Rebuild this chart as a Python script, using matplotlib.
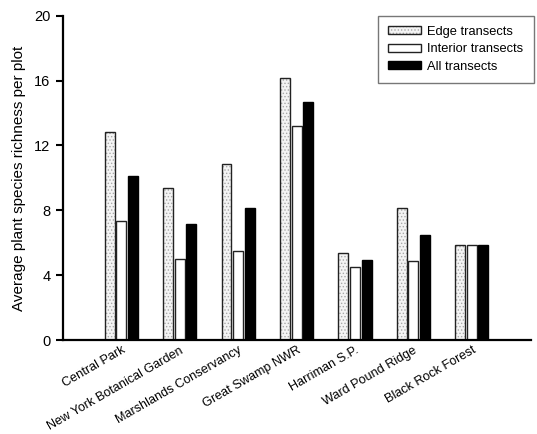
import matplotlib
matplotlib.use("Agg")
import matplotlib.pyplot as plt
import numpy as np
from matplotlib.patches import Patch
from matplotlib.legend_handler import HandlerTuple

plt.rcParams['font.family'] = ['Liberation Sans', 'DejaVu Sans']
plt.rcParams['hatch.linewidth'] = 0.6

sites = ["Central Park", "New York Botanical Garden", "Marshlands Conservancy",
         "Great Swamp NWR", "Harriman S.P.", "Ward Pound Ridge", "Black Rock Forest"]
edge = [12.83, 9.36, 10.87, 16.15, 5.35, 8.17, 5.84]
interior = [7.35, 5.0, 5.51, 13.18, 4.53, 4.86, 5.84]
all_tr = [10.1, 7.19, 8.17, 14.65, 4.94, 6.49, 5.84]
yticks = [0, 4, 8, 12, 16, 20]

fig = plt.figure(figsize=(5.37, 4.34), dpi=100)
ax = fig.add_axes([0.1173, 0.216, 0.872, 0.748])

x = np.arange(len(sites))
w = 0.17
off = 0.2

# edge bars: stippled fill then a dark outline on top
ax.bar(x - off, edge, w, facecolor='#f4f4f4', edgecolor='#a8a8a8', hatch='.....', linewidth=0)
ax.bar(x - off, edge, w, fill=False, edgecolor='#222222', linewidth=1.0)
ax.bar(x, interior, w, facecolor='white', edgecolor='#222222', linewidth=1.0)
ax.bar(x + off, all_tr, w, facecolor='black', edgecolor='black', linewidth=1.0)

ax.set_xlim(-1.0, 7.02)
ax.set_ylim(0, 20)
ax.set_yticks(yticks)
ax.set_xticks(x)
ax.set_xticklabels(sites, rotation=30, ha='right', rotation_mode='anchor', fontsize=9.1)
ax.tick_params(axis='x', length=0, pad=3)
ax.tick_params(axis='y', direction='out', length=5, width=1.5, labelsize=10.5, pad=4)
ax.set_ylabel("Average plant species richness per plot", fontsize=11, labelpad=6)

for s in ['top', 'right']:
    ax.spines[s].set_visible(False)
ax.spines['left'].set_linewidth(1.6)
ax.spines['bottom'].set_linewidth(1.6)

h_edge = (Patch(facecolor='#f4f4f4', edgecolor='#a8a8a8', hatch='.....', linewidth=0),
          Patch(fill=False, edgecolor='#222222', linewidth=1.0))
h_int = Patch(facecolor='white', edgecolor='#222222', linewidth=1.0)
h_all = Patch(facecolor='black', edgecolor='black')
leg = ax.legend([h_edge, h_int, h_all], ["Edge transects", "Interior transects", "All transects"],
                handler_map={tuple: HandlerTuple(ndivide=1, pad=0)},
                loc='upper right', bbox_to_anchor=(1.005, 1.0), fancybox=False,
                edgecolor='#555555', fontsize=9.3, handlelength=2.55, handleheight=0.55,
                labelspacing=0.42, borderpad=0.8, handletextpad=0.47, borderaxespad=0)
leg.get_frame().set_linewidth(1.0)

fig.savefig("out.png", dpi=100)
